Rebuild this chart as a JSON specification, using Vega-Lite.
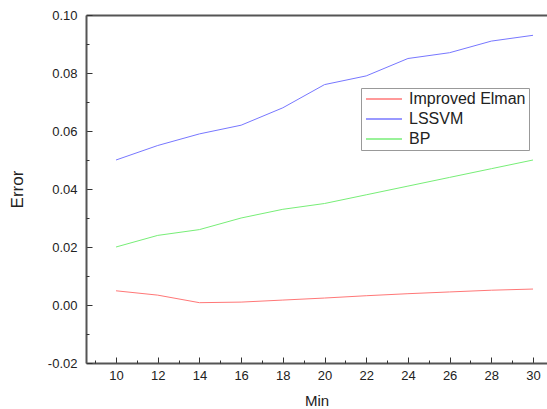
{
  "$schema": "https://vega.github.io/schema/vega-lite/v6.json",
  "autosize": "none",
  "width": 461,
  "height": 348,
  "padding": {"left": 86, "top": 15, "right": 0, "bottom": 46},
  "background": "white",
  "config": {
    "view": {"stroke": null},
    "font": "Liberation Sans",
    "axis": {
      "domainColor": "#555555",
      "domainWidth": 2,
      "tickColor": "#333333",
      "tickWidth": 1,
      "grid": false,
      "labelFont": "Liberation Sans",
      "labelFontSize": 13,
      "labelColor": "#222222",
      "titleFont": "Liberation Sans",
      "titleFontWeight": "normal",
      "titleColor": "#222222"
    }
  },
  "data": {
    "values": [
      {"Min": 10, "model": "Improved Elman", "Error": 0.0049},
      {"Min": 12, "model": "Improved Elman", "Error": 0.0034},
      {"Min": 14, "model": "Improved Elman", "Error": 0.0008},
      {"Min": 16, "model": "Improved Elman", "Error": 0.0010},
      {"Min": 18, "model": "Improved Elman", "Error": 0.0017},
      {"Min": 20, "model": "Improved Elman", "Error": 0.0024},
      {"Min": 22, "model": "Improved Elman", "Error": 0.0032},
      {"Min": 24, "model": "Improved Elman", "Error": 0.0039},
      {"Min": 26, "model": "Improved Elman", "Error": 0.0045},
      {"Min": 28, "model": "Improved Elman", "Error": 0.0051},
      {"Min": 30, "model": "Improved Elman", "Error": 0.0055},
      {"Min": 10, "model": "LSSVM", "Error": 0.050},
      {"Min": 12, "model": "LSSVM", "Error": 0.055},
      {"Min": 14, "model": "LSSVM", "Error": 0.059},
      {"Min": 16, "model": "LSSVM", "Error": 0.062},
      {"Min": 18, "model": "LSSVM", "Error": 0.068},
      {"Min": 20, "model": "LSSVM", "Error": 0.076},
      {"Min": 22, "model": "LSSVM", "Error": 0.079},
      {"Min": 24, "model": "LSSVM", "Error": 0.085},
      {"Min": 26, "model": "LSSVM", "Error": 0.087},
      {"Min": 28, "model": "LSSVM", "Error": 0.091},
      {"Min": 30, "model": "LSSVM", "Error": 0.093},
      {"Min": 10, "model": "BP", "Error": 0.020},
      {"Min": 12, "model": "BP", "Error": 0.024},
      {"Min": 14, "model": "BP", "Error": 0.026},
      {"Min": 16, "model": "BP", "Error": 0.030},
      {"Min": 18, "model": "BP", "Error": 0.033},
      {"Min": 20, "model": "BP", "Error": 0.035},
      {"Min": 22, "model": "BP", "Error": 0.038},
      {"Min": 24, "model": "BP", "Error": 0.041},
      {"Min": 26, "model": "BP", "Error": 0.044},
      {"Min": 28, "model": "BP", "Error": 0.047},
      {"Min": 30, "model": "BP", "Error": 0.050}
    ]
  },
  "layer": [
    {
      "mark": {"type": "line", "strokeWidth": 1, "clip": true},
      "encoding": {
        "x": {
          "field": "Min", "type": "quantitative",
          "scale": {"domain": [8.56, 30.67], "nice": false, "zero": false},
          "axis": {
            "orient": "bottom",
            "values": [10,12,14,16,18,20,22,24,26,28,30],
            "tickSize": -6,
            "labelPadding": 12,
            "labelFontSize": 13,
            "title": "Min",
            "titleFontSize": 15,
            "titlePadding": 11
          }
        },
        "y": {
          "field": "Error", "type": "quantitative",
          "scale": {"domain": [-0.02, 0.10], "nice": false, "zero": false},
          "axis": {
            "orient": "left",
            "values": [-0.02,0,0.02,0.04,0.06,0.08,0.10],
            "labelExpr": "replace(format(datum.value, '.2f'), '\u2212', '-')",
            "tickSize": -6,
            "labelPadding": 15,
            "title": "Error",
            "titleFontSize": 17,
            "titlePadding": 21
          }
        },
        "color": {
          "field": "model", "type": "nominal",
          "scale": {"domain": ["Improved Elman", "LSSVM", "BP"], "range": ["#ff7777", "#7777ff", "#77ee77"]},
          "legend": {
            "title": null,
            "orient": "none",
            "legendX": 275,
            "legendY": 73,
            "symbolType": "M-1,0H5",
            "symbolSize": 144,
            "symbolStrokeWidth": 1.5,
            "labelFont": "Liberation Sans",
            "labelFontSize": 16,
            "labelColor": "#222222",
            "labelOffset": 29,
            "padding": 3,
            "rowPadding": 4,
            "strokeColor": "#999999",
            "fillColor": "white"
          }
        }
      }
    },
    {
      "mark": {"type": "line", "opacity": 0},
      "encoding": {
        "x": {
          "field": "Min", "type": "quantitative",
          "axis": {"orient": "top", "ticks": false, "labels": false, "title": null, "domainWidth": 2}
        },
        "y": {"field": "Error", "type": "quantitative",
          "axis": {"orient": "left", "values": [-0.01,0.01,0.03,0.05,0.07,0.09], "tickSize": -3, "labels": false, "title": null, "domain": false}
        }
      }
    },
    {
      "mark": {"type": "line", "opacity": 0},
      "encoding": {
        "x": {
          "field": "Min", "type": "quantitative",
          "axis": {"orient": "bottom", "values": [9,11,13,15,17,19,21,23,25,27,29], "tickSize": -3, "labels": false, "title": null, "domain": false}
        },
        "y": {"field": "Error", "type": "quantitative", "axis": null}
      }
    }
  ],
  "resolve": {"axis": {"x": "independent", "y": "independent"}}
}
